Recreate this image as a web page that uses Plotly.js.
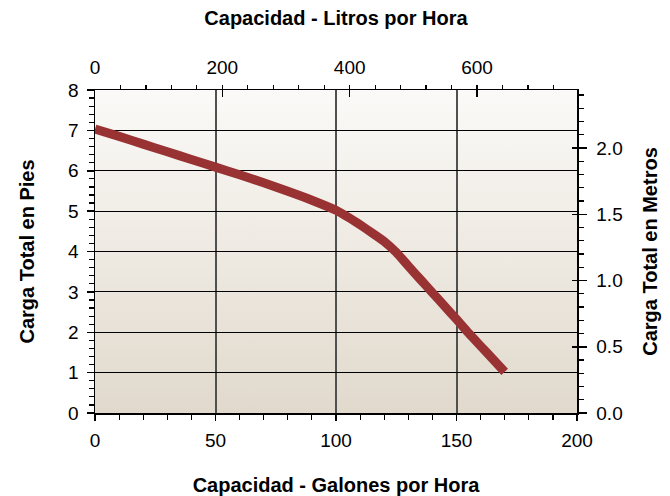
<!DOCTYPE html>
<html>
<head>
<meta charset="utf-8">
<script src="https://cdn.plot.ly/plotly-3.0.1.min.js"></script>
<style>
html,body{margin:0;padding:0;background:#fff;}
#chart{width:670px;height:496px;}
</style>
</head>
<body>
<div id="chart"></div>
<script>
// Data
const gallonsPerHour = [0, 10, 20, 30, 40, 50, 60, 70, 80, 90, 100, 105, 110, 115, 120, 125, 130, 135, 140, 145, 150, 155, 160, 165, 170];
const headFeet       = [7.03, 6.85, 6.66, 6.47, 6.28, 6.09, 5.90, 5.70, 5.49, 5.27, 5.02, 4.85, 4.66, 4.46, 4.25, 3.98, 3.64, 3.31, 2.98, 2.65, 2.32, 1.98, 1.66, 1.34, 1.02];

// Axis extents and unit conversions
const galRange = [0, 200];
const feetRange = [0, 8];
const LITERS_PER_GALLON = 3.78541;
const METERS_PER_FOOT = 0.3048;

const titleTop = 'Capacidad - Litros por Hora';
const titleBottom = 'Capacidad - Galones por Hora';
const titleLeft = 'Carga Total en Pies';
const titleRight = 'Carga Total en Metros';

const FONT = 'Liberation Sans, Arial, Helvetica, sans-serif';
const tickFont = {family: FONT, size: 19, color: '#000'};
const titleFont = {family: FONT, size: 20, color: '#000', weight: 'bold'};

const literRange = [galRange[0] * LITERS_PER_GALLON, galRange[1] * LITERS_PER_GALLON];
const meterRange = [feetRange[0] * METERS_PER_FOOT, feetRange[1] * METERS_PER_FOOT];

const trace = {
  x: gallonsPerHour,
  y: headFeet,
  type: 'scatter',
  mode: 'lines',
  line: {color: '#993333', width: 9, shape: 'spline', smoothing: 0.6},
  hoverinfo: 'x+y',
  showlegend: false
};

const axisCommon = {
  showline: true, linecolor: '#000', linewidth: 1.5,
  ticks: 'outside', tickcolor: '#000', tickwidth: 1.5, ticklen: 6,
  tickfont: tickFont, zeroline: false, fixedrange: true
};

const layout = {
  width: 670, height: 496,
  margin: {l: 95, r: 93, t: 90, b: 83},
  paper_bgcolor: '#ffffff',
  plot_bgcolor: '#f0ebe4',
  showlegend: false,
  xaxis: Object.assign({}, axisCommon, {
    range: galRange, dtick: 50, tick0: 0,
    showgrid: true, gridcolor: '#505050', gridwidth: 2,
    ticklabelstandoff: 4,
    minor: {dtick: 10, ticklen: 5, tickcolor: '#000', tickwidth: 1.2, showgrid: false},
    title: {text: titleBottom, font: titleFont, standoff: 28}
  }),
  xaxis2: Object.assign({}, axisCommon, {
    overlaying: 'x', side: 'top', anchor: 'y',
    range: literRange, dtick: 200, tick0: 0, showgrid: false,
    ticks: 'inside', ticklen: 7, ticklabelstandoff: 7,
    minor: {dtick: 40, ticks: 'outside', ticklen: 4, tickcolor: '#000', tickwidth: 1.2, showgrid: false},
    title: {text: titleTop, font: titleFont, standoff: 26}
  }),
  yaxis: Object.assign({}, axisCommon, {
    range: feetRange, dtick: 1, tick0: 0,
    showgrid: true, gridcolor: '#000000', gridwidth: 1,
    ticklen: 7, ticklabelstandoff: 4,
    minor: {dtick: 0.2, ticklen: 5, tickcolor: '#000', tickwidth: 1.2, showgrid: false},
    title: {text: titleLeft, font: titleFont, standoff: 28}
  }),
  yaxis2: Object.assign({}, axisCommon, {
    overlaying: 'y', side: 'right', anchor: 'x',
    range: meterRange, dtick: 0.5, tick0: 0, tickformat: '.1f', showgrid: false,
    ticklen: 8, ticklabelstandoff: 6,
    minor: {dtick: 0.1, ticklen: 5, tickcolor: '#000', tickwidth: 1.2, showgrid: false},
    title: {text: titleRight, font: titleFont, standoff: 21}
  }),
  // inner half of the crossing major ticks on the right axis
  yaxis3: {
    overlaying: 'y', side: 'right', anchor: 'x',
    range: meterRange, dtick: 0.5, tick0: 0,
    showline: false, showgrid: false, zeroline: false, showticklabels: false,
    ticks: 'inside', ticklen: 5, tickwidth: 1.5, tickcolor: '#000', fixedrange: true
  }
};

// empty helper traces so the secondary axes are drawn
const topAxisTrace = {x: [], y: [], xaxis: 'x2', yaxis: 'y', type: 'scatter', mode: 'lines', showlegend: false, hoverinfo: 'skip'};
const rightAxisTrace = {x: [], y: [], xaxis: 'x', yaxis: 'y2', type: 'scatter', mode: 'lines', showlegend: false, hoverinfo: 'skip'};
const rightInnerTrace = {x: [], y: [], xaxis: 'x', yaxis: 'y3', type: 'scatter', mode: 'lines', showlegend: false, hoverinfo: 'skip'};

Plotly.newPlot('chart', [trace, topAxisTrace, rightAxisTrace, rightInnerTrace], layout, {displayModeBar: false, staticPlot: true}).then(function (gd) {
  // vertical gradient for the plot background
  const svg = gd.querySelector('svg.main-svg');
  const ns = 'http://www.w3.org/2000/svg';
  let defs = svg.querySelector('defs');
  if (!defs) { defs = document.createElementNS(ns, 'defs'); svg.insertBefore(defs, svg.firstChild); }
  const grad = document.createElementNS(ns, 'linearGradient');
  grad.setAttribute('id', 'plotBgGrad');
  grad.setAttribute('x1', '0'); grad.setAttribute('y1', '0');
  grad.setAttribute('x2', '0'); grad.setAttribute('y2', '1');
  [['0', '#fbfaf8'], ['1', '#e1d9cc']].forEach(function (s) {
    const st = document.createElementNS(ns, 'stop');
    st.setAttribute('offset', s[0]);
    st.setAttribute('stop-color', s[1]);
    grad.appendChild(st);
  });
  defs.appendChild(grad);
  gd.querySelectorAll('.bglayer rect.bg').forEach(function (r) {
    r.style.fill = 'url(#plotBgGrad)';
  });
});
</script>
</body>
</html>
